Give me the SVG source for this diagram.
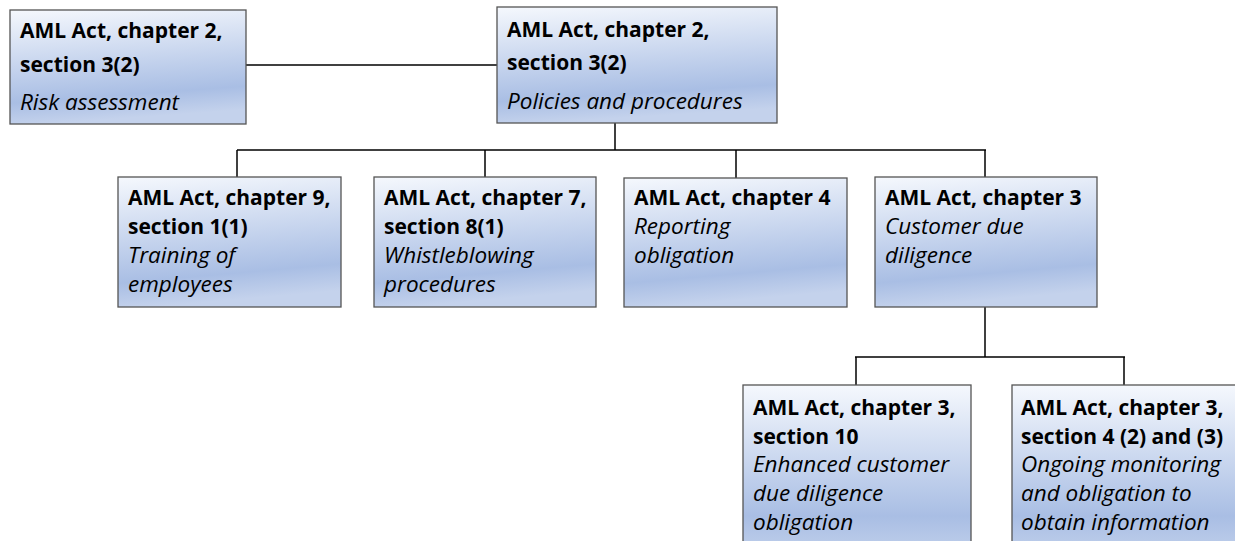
<svg xmlns="http://www.w3.org/2000/svg" width="1235" height="541" viewBox="0 0 1235 541">
<defs>
<linearGradient id="g" x1="0" y1="0" x2="0.15" y2="1">
<stop offset="0" stop-color="#f5f8fd"/>
<stop offset="0.8" stop-color="#a9bee4"/>
<stop offset="1" stop-color="#c4d2ec"/>
</linearGradient>
<linearGradient id="g2" x1="0" y1="385" x2="0" y2="560" gradientUnits="userSpaceOnUse">
<stop offset="0" stop-color="#f5f8fd"/>
<stop offset="0.75" stop-color="#a9bee4"/>
<stop offset="1" stop-color="#c4d2ec"/>
</linearGradient>
</defs>
<style>
.box{fill:url(#g);stroke:#555;stroke-width:1.3}
.box2{fill:url(#g2);stroke:#555;stroke-width:1.3}
text{font-family:"Open Sans","Noto Sans","DejaVu Sans",sans-serif;fill:#000}
.b{font-weight:bold;font-size:21px}
.i{font-style:italic;font-size:22.5px}
.c line{stroke:#000;stroke-width:1.5}
</style>
<rect width="1235" height="541" fill="#fff"/>
<g class="c" id="connectors">
<line x1="246" y1="65" x2="497" y2="65"/>
<line x1="615" y1="123" x2="615" y2="150"/>
<line x1="237" y1="150" x2="986" y2="150"/>
<line x1="237" y1="150" x2="237" y2="177"/>
<line x1="485" y1="150" x2="485" y2="177"/>
<line x1="736" y1="150" x2="736" y2="178"/>
<line x1="985" y1="150" x2="985" y2="177"/>
<line x1="985" y1="307" x2="985" y2="357"/>
<line x1="855" y1="357" x2="1125" y2="357"/>
<line x1="856" y1="357" x2="856" y2="385"/>
<line x1="1124" y1="357" x2="1124" y2="385"/>
</g>
<g id="n1">
<rect class="box" x="10" y="10" width="236" height="114"/>
<text class="b" x="20" y="38">AML Act, chapter 2,</text>
<text class="b" x="20" y="72">section 3(2)</text>
<text class="i" x="20" y="110">Risk assessment</text>
</g>
<g id="n2">
<rect class="box" x="497" y="7" width="280" height="116"/>
<text class="b" x="507" y="37">AML Act, chapter 2,</text>
<text class="b" x="507" y="70">section 3(2)</text>
<text class="i" x="507" y="109">Policies and procedures</text>
</g>
<g id="n3">
<rect class="box" x="118" y="177" width="223" height="130"/>
<text class="b" x="128" y="205">AML Act, chapter 9,</text>
<text class="b" x="128" y="234">section 1(1)</text>
<text class="i" x="128" y="263">Training of</text>
<text class="i" x="128" y="292">employees</text>
</g>
<g id="n4">
<rect class="box" x="374" y="177" width="222" height="130"/>
<text class="b" x="384" y="205">AML Act, chapter 7,</text>
<text class="b" x="384" y="234">section 8(1)</text>
<text class="i" x="384" y="263">Whistleblowing</text>
<text class="i" x="384" y="292">procedures</text>
</g>
<g id="n5">
<rect class="box" x="624" y="178" width="223" height="129"/>
<text class="b" x="634" y="205">AML Act, chapter 4</text>
<text class="i" x="634" y="234">Reporting</text>
<text class="i" x="634" y="263">obligation</text>
</g>
<g id="n6">
<rect class="box" x="875" y="177" width="222" height="130"/>
<text class="b" x="885" y="205">AML Act, chapter 3</text>
<text class="i" x="885" y="234">Customer due</text>
<text class="i" x="885" y="263">diligence</text>
</g>
<g id="n7">
<rect class="box2" x="743" y="385" width="228" height="175"/>
<text class="b" x="753" y="415">AML Act, chapter 3,</text>
<text class="b" x="753" y="444">section 10</text>
<text class="i" x="753" y="472">Enhanced customer</text>
<text class="i" x="753" y="501">due diligence</text>
<text class="i" x="753" y="530">obligation</text>
</g>
<g id="n8">
<rect class="box2" x="1012" y="385" width="240" height="175"/>
<text class="b" x="1021" y="415">AML Act, chapter 3,</text>
<text class="b" x="1021" y="444">section 4 (2) and (3)</text>
<text class="i" x="1021" y="472">Ongoing monitoring</text>
<text class="i" x="1021" y="501">and obligation to</text>
<text class="i" x="1021" y="530">obtain information</text>
</g>
</svg>
